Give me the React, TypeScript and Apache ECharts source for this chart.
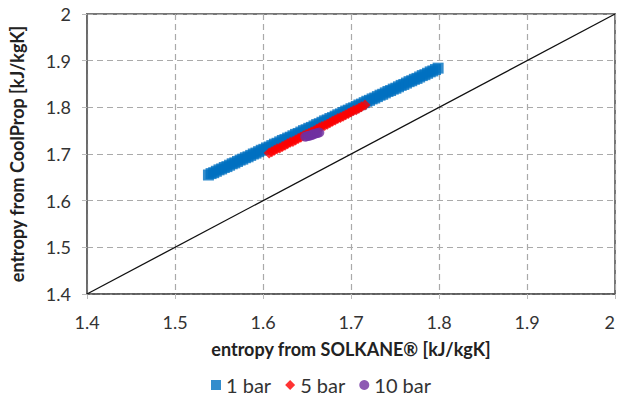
import React, { useEffect, useRef } from "react";
import * as echarts from "echarts";

// Entropy pairs [SOLKANE, CoolProp] in kJ/kgK
const bar1: [number, number][] = [
  [1.538, 1.655], [1.541, 1.658], [1.544, 1.66], [1.547, 1.663], [1.55, 1.666],
  [1.553, 1.668], [1.556, 1.671], [1.559, 1.673], [1.562, 1.676], [1.565, 1.679],
  [1.568, 1.681], [1.571, 1.684], [1.574, 1.687], [1.577, 1.689], [1.58, 1.692],
  [1.583, 1.694], [1.586, 1.697], [1.589, 1.7], [1.592, 1.702], [1.595, 1.705],
  [1.598, 1.708], [1.601, 1.71], [1.604, 1.713], [1.607, 1.715], [1.61, 1.718],
  [1.613, 1.721], [1.616, 1.723], [1.619, 1.726], [1.622, 1.729], [1.625, 1.731],
  [1.628, 1.734], [1.631, 1.736], [1.634, 1.739], [1.637, 1.742], [1.64, 1.744],
  [1.643, 1.747], [1.646, 1.75], [1.649, 1.752], [1.652, 1.755], [1.655, 1.757],
  [1.658, 1.76], [1.661, 1.763], [1.664, 1.765], [1.667, 1.768], [1.67, 1.771],
  [1.673, 1.773], [1.676, 1.776], [1.679, 1.778], [1.682, 1.781], [1.685, 1.784],
  [1.688, 1.786], [1.691, 1.789], [1.694, 1.792], [1.697, 1.794], [1.7, 1.797],
  [1.703, 1.799], [1.706, 1.802], [1.709, 1.805], [1.712, 1.807], [1.715, 1.81],
  [1.718, 1.813], [1.721, 1.815], [1.724, 1.818], [1.727, 1.82], [1.73, 1.823],
  [1.733, 1.826], [1.736, 1.828], [1.739, 1.831], [1.742, 1.834], [1.745, 1.836],
  [1.748, 1.839], [1.751, 1.841], [1.754, 1.844], [1.757, 1.847], [1.76, 1.849],
  [1.763, 1.852], [1.766, 1.855], [1.769, 1.857], [1.772, 1.86], [1.775, 1.862],
  [1.778, 1.865], [1.781, 1.868], [1.784, 1.87], [1.787, 1.873], [1.79, 1.876],
  [1.793, 1.878], [1.796, 1.881], [1.799, 1.884],
];

const bar5: [number, number][] = [
  [1.607, 1.702], [1.61, 1.705], [1.613, 1.708], [1.616, 1.711], [1.619, 1.713],
  [1.622, 1.716], [1.625, 1.719], [1.628, 1.722], [1.631, 1.725], [1.634, 1.727],
  [1.637, 1.73], [1.64, 1.733], [1.643, 1.736], [1.646, 1.739], [1.649, 1.742],
  [1.652, 1.744], [1.655, 1.747], [1.658, 1.75], [1.661, 1.753], [1.664, 1.756],
  [1.667, 1.759], [1.67, 1.761], [1.673, 1.764], [1.676, 1.767], [1.679, 1.77],
  [1.682, 1.773], [1.685, 1.776], [1.688, 1.778], [1.691, 1.781], [1.694, 1.784],
  [1.697, 1.787], [1.7, 1.79], [1.703, 1.793], [1.706, 1.795], [1.709, 1.798],
  [1.712, 1.801], [1.716, 1.805],
];

const bar10: [number, number][] = [
  [1.648, 1.737], [1.65, 1.738], [1.652, 1.739], [1.654, 1.74], [1.656, 1.741],
  [1.658, 1.743], [1.66, 1.744], [1.662, 1.745], [1.664, 1.746],
];

// Line of equality
const parity: [number, number][] = [
  [1.4, 1.4],
  [2.0, 2.0],
];

const seriesNames = ["1 bar", "5 bar", "10 bar"];
const xTitle = "entropy from SOLKANE® [kJ/kgK]";
const yTitle = "entropy from CoolProp [kJ/kgK]";

const FONT = "Lato, 'Noto Sans', sans-serif";

const tickFormatter = (v: number) => (Math.abs(v - 2) < 1e-9 ? "2" : v.toFixed(1));

export default function App() {
  const ref = useRef<HTMLDivElement>(null);

  useEffect(() => {
    if (!ref.current) return;
    const chart = echarts.init(ref.current, undefined, { renderer: "svg" });

    const axisCommon = {
      type: "value" as const,
      min: 1.4,
      max: 2.0,
      interval: 0.1,
      nameLocation: "middle" as const,
      nameTextStyle: { fontFamily: FONT, fontSize: 18, fontWeight: "bold" as const, color: "#222" },
      axisTick: { show: true, inside: false, length: 5, lineStyle: { color: "#bbb" } },
      splitLine: { show: true, lineStyle: { color: "#aaa", type: [6, 4] as any, width: 1.2 } },
    };

    chart.setOption({
      animation: false,
      backgroundColor: "#fff",
      grid: {
        left: 87,
        right: 4,
        top: 14,
        bottom: 103,
        outerBoundsMode: "none",
        containLabel: false,
        show: true,
        borderColor: "#777",
        borderWidth: 2,
        backgroundColor: "transparent",
      },
      xAxis: {
        ...axisCommon,
        name: xTitle,
        nameGap: 46,
        axisLine: { show: true, lineStyle: { color: "#555", width: 1.5, type: [3, 2] } },
        axisLabel: {
          fontFamily: FONT,
          fontSize: 18,
          color: "#333",
          margin: 19,
          alignMaxLabel: "right",
          formatter: tickFormatter,
        },
      },
      yAxis: {
        ...axisCommon,
        name: yTitle,
        nameGap: 61,
        axisLine: { show: true, lineStyle: { color: "#666", width: 1.5 } },
        axisLabel: {
          fontFamily: FONT,
          fontSize: 18,
          color: "#333",
          margin: 16,
          formatter: tickFormatter,
        },
      },
      legend: {
        top: 370,
        left: 206,
        itemWidth: 10,
        itemHeight: 10,
        itemGap: 14,
        textStyle: { fontFamily: FONT, fontSize: 20, color: "#333" },
        data: [
          { name: seriesNames[0], icon: "rect" },
          { name: seriesNames[1], icon: "diamond" },
          { name: seriesNames[2], icon: "circle" },
        ],
      },
      series: [
        {
          type: "line",
          data: parity,
          symbol: "none",
          lineStyle: { color: "#111", width: 1.3 },
          silent: true,
          z: 1,
        },
        {
          name: seriesNames[0],
          type: "scatter",
          data: bar1,
          symbol: "rect",
          symbolSize: 11,
          itemStyle: { color: "#0070C0" },
          z: 2,
        },
        {
          name: seriesNames[1],
          type: "scatter",
          data: bar5,
          symbol: "diamond",
          symbolSize: 11,
          itemStyle: { color: "#FF0000" },
          z: 3,
        },
        {
          name: seriesNames[2],
          type: "scatter",
          data: bar10,
          symbol: "circle",
          symbolSize: 10,
          itemStyle: { color: "#7030A0" },
          z: 4,
        },
      ],
    });

    return () => chart.dispose();
  }, []);

  // Positioned over the body margin so the chart fills the page
  return (
    <div
      ref={ref}
      style={{ position: "absolute", left: 0, top: 0, width: 619, height: 397 }}
    />
  );
}
